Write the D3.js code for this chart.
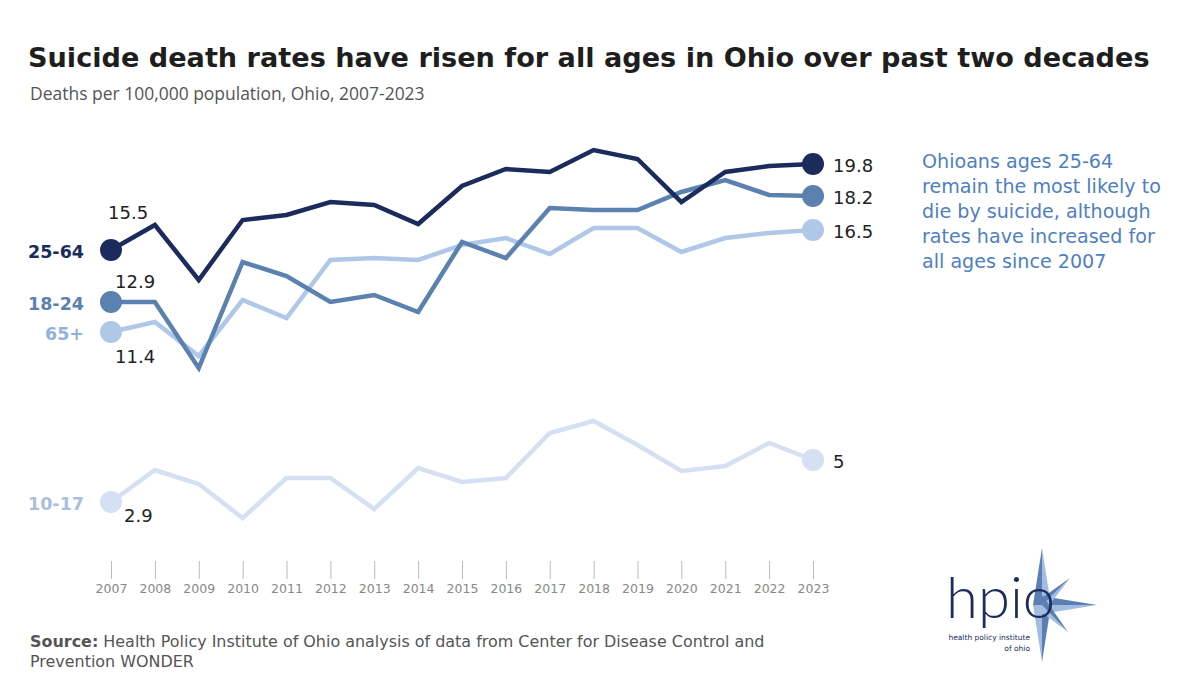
<!DOCTYPE html>
<html>
<head>
<meta charset="utf-8">
<script src="https://cdn.jsdelivr.net/npm/d3@7"></script>
<style>
  body { margin: 0; background: #fff; }
  text { font-family: "DejaVu Sans", "Open Sans", sans-serif; }
</style>
</head>
<body>
<div id="chart"></div>
<script>
// data
let years = [2007, 2008, 2009, 2010, 2011, 2012, 2013, 2014, 2015, 2016, 2017, 2018, 2019, 2020, 2021, 2022, 2023];
let ages_25_64 = [15.5, 16.75, 14.0, 17.0, 17.25, 17.9, 17.75, 16.8, 18.7, 19.55, 19.4, 20.5, 20.05, 17.9, 19.4, 19.7, 19.8];
let ages_18_24 = [12.9, 12.9, 9.6, 14.9, 14.2, 12.9, 13.25, 12.4, 15.9, 15.1, 17.6, 17.5, 17.5, 18.4, 19.0, 18.25, 18.2];
let ages_65_up = [11.4, 11.9, 10.2, 13.0, 12.1, 15.0, 15.1, 15.0, 15.75, 16.1, 15.3, 16.6, 16.6, 15.4, 16.1, 16.35, 16.5];
let ages_10_17 = [2.9, 4.5, 3.8, 2.1, 4.1, 4.1, 2.55, 4.6, 3.9, 4.1, 6.35, 6.95, 5.75, 4.45, 4.7, 5.85, 5.0];
let series_names = ["10-17", "65+", "18-24", "25-64"];

let width = 1186;
let height = 696;

let series = [
    {name: series_names[0], values: ages_10_17, color: "#d5e1f2", label_color: "#a8bfdd", first_dx: 13, first_dy: 20},
    {name: series_names[1], values: ages_65_up, color: "#afc8e8", label_color: "#93b2da", first_dx: 4, first_dy: 31},
    {name: series_names[2], values: ages_18_24, color: "#5b81b0", label_color: "#5b81b0", first_dx: 4, first_dy: -14},
    {name: series_names[3], values: ages_25_64, color: "#1b2c5c", label_color: "#1b2c5c", first_dx: -3, first_dy: -31}
];

let svg = d3.select("#chart").append("svg")
    .attr("width", width)
    .attr("height", height);

let x = d3.scaleLinear().domain([2007, 2023]).range([111, 813]);
let y = d3.scaleLinear().domain([0, 20]).range([560, 160]);

// shrink / grow a text's font so it spans the given width
function fit(sel, target_width) {
    let size = parseFloat(sel.style("font-size"));
    let w = sel.node().getComputedTextLength();
    sel.style("font-size", (size * target_width / w) + "px");
}

// titles
let title = svg.append("text")
    .attr("x", 28).attr("y", 67)
    .style("font-size", "29px").style("font-weight", "bold").style("fill", "#1e1e1e")
    .text("Suicide death rates have risen for all ages in Ohio over past two decades");
fit(title, 1122);
let subtitle = svg.append("text")
    .attr("x", 30).attr("y", 100)
    .style("font-family", "\"Open Sans\", sans-serif")
    .style("font-size", "18px").style("fill", "#555")
    .text("Deaths per 100,000 population, Ohio, 2007-2023");
fit(subtitle, 395);

// axis
let axis = svg.append("g")
    .attr("transform", "translate(0,561)")
    .call(d3.axisBottom(x).tickValues(years).tickFormat(d3.format("d")).tickSize(18).tickPadding(5));
axis.select(".domain").remove();
axis.selectAll("line").attr("stroke", "#bbb");
axis.selectAll("text")
    .style("font-size", "12.5px").style("fill", "#888")
    .style("font-family", "\"DejaVu Sans\", sans-serif");

let line = d3.line()
    .x((d, i) => x(years[i]))
    .y(d => y(d));

series.forEach(s => {
    let g = svg.append("g");
    let n = s.values.length;
    g.append("path")
        .attr("d", line(s.values))
        .attr("fill", "none")
        .attr("stroke", s.color)
        .attr("stroke-width", 4.5)
        .attr("stroke-linejoin", "miter");
    g.selectAll("circle")
        .data([0, n - 1])
        .enter()
        .append("circle")
        .attr("cx", i => x(years[i]))
        .attr("cy", i => y(s.values[i]))
        .attr("r", 11)
        .attr("fill", s.color);
    // group label
    g.append("text")
        .attr("x", 84).attr("y", y(s.values[0]) + 8)
        .attr("text-anchor", "end")
        .style("font-size", "17.5px").style("font-weight", "bold").style("fill", s.label_color)
        .text(s.name);
    // first value
    g.append("text")
        .attr("x", x(years[0]) + s.first_dx)
        .attr("y", y(s.values[0]) + s.first_dy)
        .style("font-size", "18px").style("fill", "#222")
        .text(s.values[0]);
    // last value
    g.append("text")
        .attr("x", x(years[n - 1]) + 20)
        .attr("y", y(s.values[n - 1]) + 8)
        .style("font-size", "18px").style("fill", "#222")
        .text(s.values[n - 1]);
});

// note on the right
let note = ["Ohioans ages 25-64", "remain the most likely to", "die by suicide, although", "rates have increased for", "all ages since 2007"];
let note_text = svg.append("g").selectAll("text")
    .data(note)
    .enter()
    .append("text")
    .attr("x", 922)
    .attr("y", (d, i) => 168 + i * 25)
    .style("font-size", "17px").style("fill", "#4f7fbf")
    .text(d => d);
fit(note_text.filter((d, i) => i == 3), 233);
note_text.style("font-size", note_text.filter((d, i) => i == 3).style("font-size"));

// source
let src = svg.append("text")
    .attr("x", 30).attr("y", 647)
    .style("font-size", "14.5px").style("fill", "#555");
src.append("tspan").style("font-weight", "bold").text("Source:");
src.append("tspan").text(" Health Policy Institute of Ohio analysis of data from Center for Disease Control and");
fit(src, 735);
svg.append("text")
    .attr("x", 30).attr("y", 667)
    .style("font-size", src.style("font-size")).style("fill", "#555")
    .text("Prevention WONDER");

// logo
let logo = svg.append("g");
let cx = 1042, cy = 605;
let spikes = [
    {dx: 0, dy: -57, w: 9},
    {dx: 0, dy: 57, w: 9},
    {dx: 55, dy: 0, w: 9},
    {dx: 28, dy: -27, w: 6},
    {dx: 26, dy: 27, w: 6}
];
spikes.forEach(s => {
    let len = Math.sqrt(s.dx * s.dx + s.dy * s.dy);
    let px = -s.dy / len * s.w, py = s.dx / len * s.w;
    logo.append("path")
        .attr("d", "M" + cx + "," + cy + " L" + (cx + px) + "," + (cy + py) + " L" + (cx + s.dx) + "," + (cy + s.dy) + "Z")
        .attr("fill", "#a3bde0");
    logo.append("path")
        .attr("d", "M" + cx + "," + cy + " L" + (cx - px) + "," + (cy - py) + " L" + (cx + s.dx) + "," + (cy + s.dy) + "Z")
        .attr("fill", "#5a7fb2");
});
logo.append("text")
    .attr("x", 946).attr("y", 618)
    .style("font-family", "Lato, sans-serif").style("font-weight", 300)
    .style("font-size", "58px").style("fill", "#1b2c5c")
    .text("hpio");
logo.append("text")
    .attr("x", 1030).attr("y", 640).attr("text-anchor", "end")
    .style("font-size", "7.5px").style("fill", "#1b2c5c")
    .text("health policy institute");
logo.append("text")
    .attr("x", 1030).attr("y", 651).attr("text-anchor", "end")
    .style("font-size", "7.5px").style("fill", "#1b2c5c")
    .text("of ohio");
</script>
</body>
</html>
